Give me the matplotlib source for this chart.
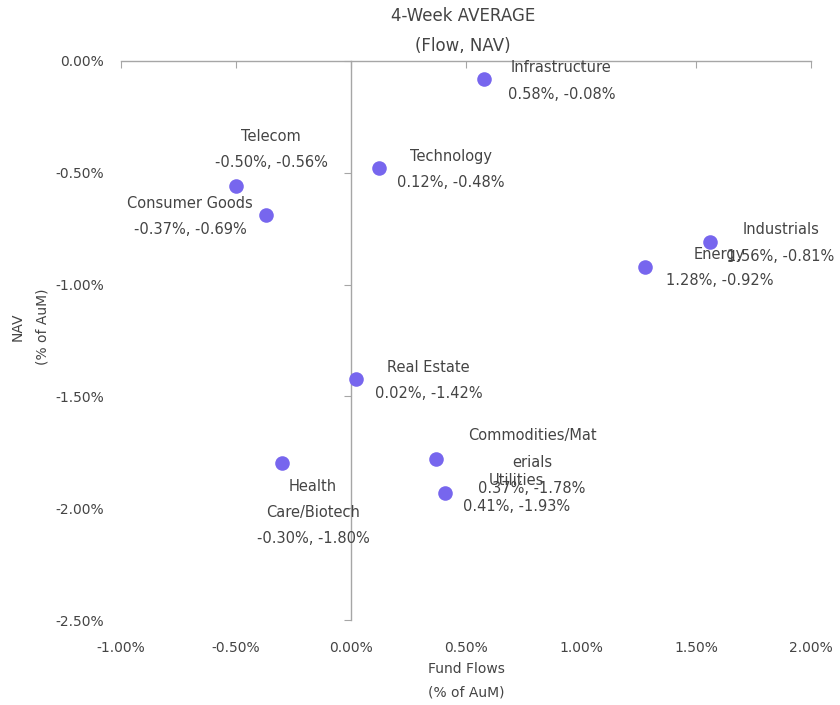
import matplotlib
matplotlib.use("Agg")
import matplotlib.pyplot as plt
from matplotlib.ticker import FuncFormatter

sectors = ["Infrastructure", "Technology", "Telecom", "Consumer Goods", "Industrials",
           "Energy", "Real Estate", "Commodities/Materials", "Utilities", "Health Care/Biotech"]
flows = [0.58, 0.12, -0.50, -0.37, 1.56, 1.28, 0.02, 0.37, 0.41, -0.30]
nav = [-0.08, -0.48, -0.56, -0.69, -0.81, -0.92, -1.42, -1.78, -1.93, -1.80]
label_names = ["Infrastructure", "Technology", "Telecom", "Consumer Goods", "Industrials",
               "Energy", "Real Estate", "Commodities/Mat\nerials", "Utilities", "Health\nCare/Biotech"]
x_ticks = [-1.0, -0.5, 0.0, 0.5, 1.0, 1.5, 2.0]
y_ticks = [0.0, -0.5, -1.0, -1.5, -2.0, -2.5]

# label offsets in pixels (dx, dy)
offsets = [(77, -2), (72, -1), (35, 37), (-76, -1), (71, -1),
           (74, -1), (73, -2), (96, -3), (71, -1), (31, -49)]

TXT = "#444444"
AX = "#A6A6A6"
PT = "#7766EE"
plt.rcParams['font.family'] = ['DejaVu Sans']

fig = plt.figure(figsize=(8.4, 7.05), dpi=100)
ax = fig.add_axes([121/840, 1-620/705, (811-121)/840, (620-61)/705])

ax.scatter(flows, nav, s=110, color=PT, zorder=3, linewidths=0)
for name, x, y, (dx, dy) in zip(label_names, flows, nav, offsets):
    ax.annotate(f"{name}\n{x:.2f}%, {y:.2f}%", (x, y), xytext=(dx, dy),
                textcoords='offset pixels', ha='center', va='center',
                fontsize=10.5, color=TXT, linespacing=1.95, zorder=4)

ax.set_xlim(-1.0, 2.0)
ax.set_ylim(-2.5, 0.0)
ax.set_xticks(x_ticks)
ax.set_yticks(y_ticks)
fmt = FuncFormatter(lambda v, p: f"{v:.2f}%")
ax.xaxis.set_major_formatter(fmt)
ax.yaxis.set_major_formatter(fmt)

for s in ["left", "bottom"]:
    ax.spines[s].set_visible(False)
ax.spines["top"].set_position(("data", 0))
ax.spines["right"].set_position(("data", 0))
for s in ["top", "right"]:
    ax.spines[s].set_color(AX)
    ax.spines[s].set_linewidth(1.0)

ax.tick_params(axis='x', top=True, bottom=False, labeltop=False, labelbottom=True,
               direction='in', length=5, color=AX, labelsize=10, labelcolor=TXT, pad=15)
ax.tick_params(axis='y', right=True, left=False, labelright=False, labelleft=True,
               direction='in', length=5, color=AX, labelsize=10, labelcolor=TXT, pad=12)

fig.text(463/840, 1-16/705, "4-Week AVERAGE", ha='center', va='center', fontsize=12, color=TXT)
fig.text(463/840, 1-46/705, "(Flow, NAV)", ha='center', va='center', fontsize=12, color=TXT)
fig.text(466/840, 1-669/705, "Fund Flows", ha='center', va='center', fontsize=10, color=TXT)
fig.text(466/840, 1-693/705, "(% of AuM)", ha='center', va='center', fontsize=10, color=TXT)
fig.text(18/840, 1-327/705, "NAV", ha='center', va='center', fontsize=10, color=TXT, rotation=90)
fig.text(42/840, 1-327/705, "(% of AuM)", ha='center', va='center', fontsize=10, color=TXT, rotation=90)

fig.savefig("out.png", dpi=100)
